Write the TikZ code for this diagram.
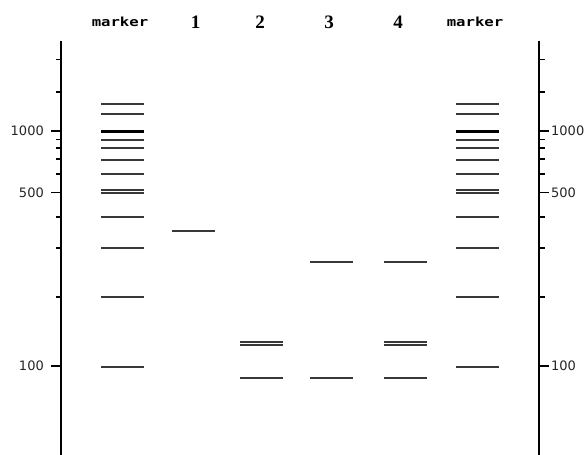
\documentclass[tikz,border=0pt]{standalone}
\usepackage{fontspec}
\usepackage{graphicx}
\newfontfamily\axisfont{DejaVu Sans}
\newfontfamily\markfont{DejaVu Sans Mono}[BoldFont={DejaVu Sans Mono Bold}]
\newfontfamily\lanefont{Liberation Serif}
\begin{document}
\begin{tikzpicture}[x=1bp,y=-1bp,
  band/.style={line width=2bp, draw=black!78},
  thickband/.style={line width=3bp, draw=black},
  axisline/.style={line width=2.2bp, draw=black},
  tickline/.style={line width=1.2bp, draw=black},
  axislabel/.style={inner sep=0pt, font=\axisfont\fontsize{13bp}{13bp}\selectfont, text=black!85},
  markerlabel/.style={inner sep=0pt, font=\markfont\bfseries\fontsize{12.5bp}{12.5bp}\selectfont},
  lanelabel/.style={inner sep=0pt, font=\lanefont\bfseries\fontsize{19bp}{19bp}\selectfont}]
\useasboundingbox (0,0) rectangle (586,455);
\fill[white] (0,0) rectangle (586,455);

% axes
\coordinate (lt) at (61,41);
\coordinate (lb) at (61,455);
\coordinate (rt) at (539,41);
\coordinate (rb) at (539,455);
\draw[axisline] (lt) -- (lb);
\draw[axisline] (rt) -- (rb);

% ticks
\foreach \y in {59.5,92,139.5,148,159,174,217,248,297} {
  \draw[tickline] (55.5,\y) -- (61,\y);
  \draw[tickline] (539,\y) -- (544.5,\y);
}
\foreach \y in {131,192.5,366} {
  \draw[tickline] (51,\y) -- (61,\y);
  \draw[tickline] (539,\y) -- (549,\y);
}

% axis labels
\node[axislabel, anchor=east] (l1000) at (44,131) {1000};
\node[axislabel, anchor=east] (l500) at (44,192.5) {500};
\node[axislabel, anchor=east] (l100) at (44,366) {100};
\node[axislabel, anchor=west] (r1000) at (551,131) {1000};
\node[axislabel, anchor=west] (r500) at (551,192.5) {500};
\node[axislabel, anchor=west] (r100) at (551,366) {100};

% headers
\node[markerlabel] (mleft) at (120,22) {\scalebox{1.25}[1]{marker}};
\node[markerlabel] (mright) at (475,22) {\scalebox{1.25}[1]{marker}};
\node[lanelabel] (n1) at (195.5,22) {1};
\node[lanelabel] (n2) at (260,22) {2};
\node[lanelabel] (n3) at (329,22) {3};
\node[lanelabel] (n4) at (398,22) {4};

% marker lanes
\foreach \xa/\xb in {101/144,456/499} {
  \foreach \y in {104,114,140,148,160,174,190,193,217,248,297,367} {
    \draw[band] (\xa,\y) -- (\xb,\y);
  }
  \draw[thickband] (\xa,131.5) -- (\xb,131.5);
}

% lane 1
\draw[band] (172,231) -- (215,231);
% lane 2
\foreach \y in {342,345,378} \draw[band] (240,\y) -- (283,\y);
% lane 3
\foreach \y in {262,378} \draw[band] (310,\y) -- (352.5,\y);
% lane 4
\foreach \y in {262,342,345,378} \draw[band] (383.5,\y) -- (426.5,\y);
\end{tikzpicture}
\end{document}
